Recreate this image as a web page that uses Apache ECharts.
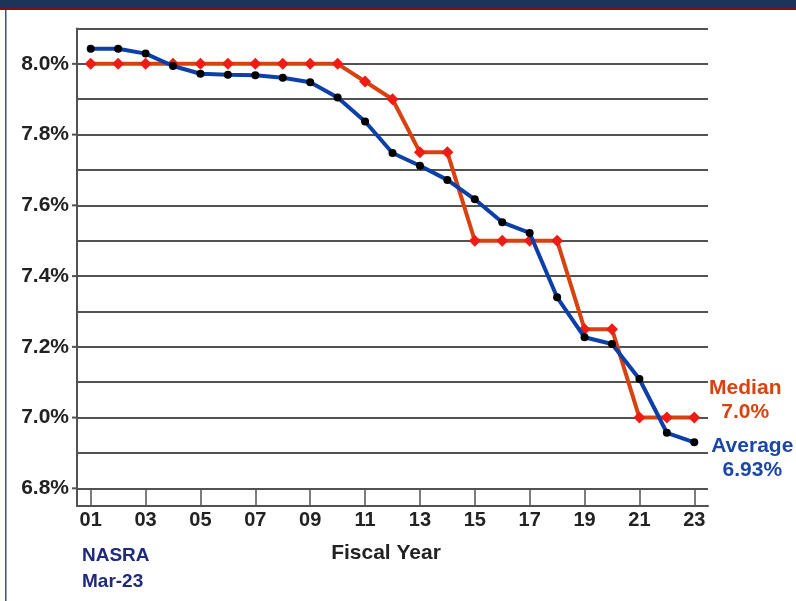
<!DOCTYPE html>
<html>
<head>
<meta charset="utf-8">
<style>
  html, body { margin: 0; padding: 0; background: #ffffff; }
  #chart { width: 796px; height: 601px; }
</style>
<script src="https://cdn.jsdelivr.net/npm/echarts@6/dist/echarts.min.js"></script>
</head>
<body>
<div id="chart"></div>
<script>
// Fiscal years on the category axis
const fiscalYears = ['01','02','03','04','05','06','07','08','09','10','11','12',
                     '13','14','15','16','17','18','19','20','21','22','23'];

// Median assumed investment return (%)
const medianRate = [8.0, 8.0, 8.0, 8.0, 8.0, 8.0, 8.0, 8.0, 8.0, 8.0, 7.95, 7.9,
                    7.75, 7.75, 7.5, 7.5, 7.5, 7.5, 7.25, 7.25, 7.0, 7.0, 7.0];

// Average assumed investment return (%)
const averageRate = [8.043, 8.043, 8.029, 7.994, 7.972, 7.969, 7.968, 7.961, 7.948, 7.905,
                     7.837, 7.748, 7.712, 7.672, 7.617, 7.552, 7.522, 7.340, 7.227, 7.208,
                     7.109, 6.957, 6.93];

// Value-axis range; labelled ticks every 0.2 point
const yMin = 6.75, yMax = 8.1, yStep = 0.05;

const FONT = "'Liberation Sans', Arial, sans-serif";
const GRID_COLOR = '#525252';
const MEDIAN_LINE = '#d8420f';
const MEDIAN_MARK = '#ee1c14';
const AVG_LINE = '#0c3fa8';

const chart = echarts.init(document.getElementById('chart'), null, { renderer: 'canvas' });

const lastIdx = fiscalYears.length - 1;

chart.setOption({
  animation: false,
  backgroundColor: '#ffffff',
  title: {
    text: 'NASRA\nMar-23',
    left: 82,
    top: 543,
    padding: 0,
    textStyle: {
      fontFamily: FONT,
      fontWeight: 'bold',
      fontSize: 19,
      color: '#1f2a7c',
      lineHeight: 26
    }
  },
  graphic: [
    { type: 'rect', shape: { x: 0, y: 0, width: 796, height: 7 }, style: { fill: '#17355e' }, silent: true },
    { type: 'rect', shape: { x: 0, y: 7, width: 796, height: 3 }, style: { fill: '#8b0a0a' }, silent: true },
    { type: 'rect', shape: { x: 5, y: 10, width: 1.5, height: 591 }, style: { fill: '#3b4f8f' }, silent: true }
  ],
  grid: { left: 77, right: 88, top: 28.5, bottom: 95, containLabel: false },
  xAxis: {
    type: 'category',
    data: fiscalYears,
    boundaryGap: true,
    name: 'Fiscal Year',
    nameLocation: 'middle',
    nameGap: 37,
    nameTextStyle: {
      fontFamily: FONT, fontWeight: 'bold', fontSize: 21, color: '#222',
      padding: [0, 13, 0, 0]
    },
    axisLine: { show: true, lineStyle: { color: GRID_COLOR, width: 2 } },
    axisTick: {
      show: true, alignWithLabel: true, interval: 1, inside: true, length: 17,
      lineStyle: { color: GRID_COLOR, width: 1.5 }
    },
    axisLabel: {
      interval: 1, margin: 4,
      fontFamily: FONT, fontWeight: 'bold', fontSize: 20, color: '#222'
    },
    splitLine: { show: false }
  },
  yAxis: {
    type: 'value',
    min: yMin,
    max: yMax,
    interval: yStep,
    axisLine: { show: true, lineStyle: { color: GRID_COLOR, width: 2 } },
    axisTick: { show: false },
    splitLine: {
      show: true,
      lineStyle: { color: ['transparent', GRID_COLOR], width: 2 }
    },
    axisLabel: {
      margin: 0,
      formatter: function (v) {
        const k = Math.round(v * 100);
        if (k % 20 !== 0) return '';
        return '{l|' + v.toFixed(1) + '%}{g|}{t|}';
      },
      rich: {
        l: { fontFamily: FONT, fontWeight: 'bold', fontSize: 21, color: '#222' },
        g: { width: 3, height: 2 },
        t: { width: 5, height: 2, backgroundColor: GRID_COLOR }
      }
    }
  },
  series: [
    {
      name: 'Median',
      type: 'line',
      data: medianRate,
      symbol: 'diamond',
      symbolSize: [12, 12],
      itemStyle: { color: MEDIAN_MARK },
      lineStyle: { color: MEDIAN_LINE, width: 4 },
      z: 2,
      markPoint: {
        symbol: 'circle',
        symbolSize: 0,
        data: [{ coord: [fiscalYears[lastIdx], medianRate[lastIdx]], value: medianRate[lastIdx] }],
        label: {
          show: true,
          position: 'inside',
          offset: [51, -17],
          align: 'center',
          verticalAlign: 'middle',
          formatter: function (p) { return 'Median\n' + p.value.toFixed(1) + '%'; },
          fontFamily: FONT, fontWeight: 'bold', fontSize: 21, lineHeight: 24,
          color: '#d8420f'
        }
      }
    },
    {
      name: 'Average',
      type: 'line',
      data: averageRate,
      symbol: 'circle',
      symbolSize: 8,
      itemStyle: { color: '#000000' },
      lineStyle: { color: AVG_LINE, width: 4 },
      z: 3,
      markPoint: {
        symbol: 'circle',
        symbolSize: 0,
        data: [{ coord: [fiscalYears[lastIdx], averageRate[lastIdx]], value: averageRate[lastIdx] }],
        label: {
          show: true,
          position: 'inside',
          offset: [58, 16],
          align: 'center',
          verticalAlign: 'middle',
          formatter: function (p) { return 'Average\n' + p.value.toFixed(2) + '%'; },
          fontFamily: FONT, fontWeight: 'bold', fontSize: 21, lineHeight: 24,
          color: '#1b47a6'
        }
      }
    }
  ]
});
</script>
</body>
</html>
